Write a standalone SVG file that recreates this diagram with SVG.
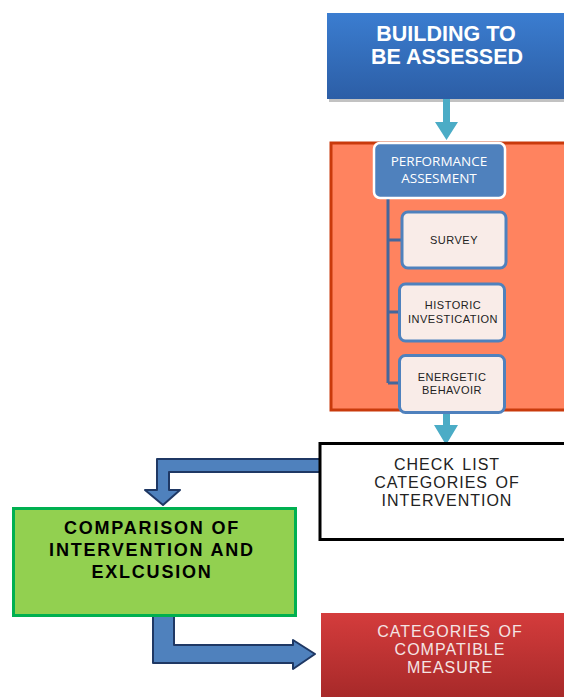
<svg xmlns="http://www.w3.org/2000/svg" width="564" height="697" viewBox="0 0 564 697">
<defs>
<linearGradient id="gBlue" x1="0" y1="0" x2="0" y2="1"><stop offset="0" stop-color="#3b7dd0"/><stop offset="1" stop-color="#2c5ea6"/></linearGradient>
<linearGradient id="gRed" x1="0" y1="0" x2="0" y2="1"><stop offset="0" stop-color="#d43c3c"/><stop offset="1" stop-color="#a42828"/></linearGradient>
<style>
.sub{fill:#f9ece8;stroke:#4f81bd;stroke-width:3}
.subt{font-family:"Liberation Sans",Arial,sans-serif;font-size:11px;letter-spacing:0.5px;fill:#222;text-anchor:middle}
.teal{fill:#4bacc6}
.barrow{fill:#4f81bd;stroke:#1f3864;stroke-width:2;stroke-linejoin:round}
.ck{font-family:"Liberation Sans",Arial,sans-serif;font-size:16px;letter-spacing:1px;word-spacing:2px;text-anchor:middle}
.bt{font-family:"Liberation Sans",Arial,sans-serif;font-weight:bold;font-size:21.5px;fill:#ffffff;text-anchor:middle}
</style>
</defs>
<rect width="564" height="697" fill="#ffffff"/>

<g id="building">
<rect x="329" y="16" width="240" height="86" fill="#9a9a9a" opacity="0.6"/>
<rect x="327" y="13" width="240" height="86" fill="url(#gBlue)"/>
<text class="bt" x="446" y="41">BUILDING TO</text>
<text class="bt" x="447" y="64">BE ASSESSED</text>
</g>

<g id="assessment-panel">
<rect x="331" y="143" width="240" height="267" fill="#ff835f" stroke="#c93a0c" stroke-width="3"/>
</g>

<g id="connectors">
<polygon class="teal" points="443,99 450,99 450,122 458,122 446.5,140 435,122 443,122"/>
<polygon class="teal" points="443,413 450,413 450,425 458,425 446,445 434,425 443,425"/>
<path d="M388,197 V383 M388,240 H402 M388,312 H399 M388,383 H399" stroke="#44679c" stroke-width="3" fill="none"/>
<polygon class="barrow" points="321,459 157,459 157,490 145,490 163,505 180,490 169,490 169,472 321,472"/>
<polygon class="barrow" points="153,615 174,615 174,645 293,645 293,640 315,654 293,669 293,663 153,663"/>
</g>

<g id="performance">
<rect x="374" y="143" width="131" height="55" rx="6" fill="#4f81bd" stroke="#ffffff" stroke-width="2.5"/>
<text x="439" y="166" font-family="Open Sans,Liberation Sans,sans-serif" font-size="13.5" fill="#ffffff" text-anchor="middle">PERFORMANCE</text>
<text x="439" y="183" font-family="Open Sans,Liberation Sans,sans-serif" font-size="13.5" fill="#ffffff" text-anchor="middle">ASSESMENT</text>
</g>

<g id="survey">
<rect class="sub" x="402" y="212" width="104" height="56" rx="6"/>
<text class="subt" x="454" y="244">SURVEY</text>
</g>

<g id="historic">
<rect class="sub" x="399.5" y="284" width="105" height="57" rx="6"/>
<text class="subt" x="453" y="309">HISTORIC</text>
<text class="subt" x="453" y="323">INVESTICATION</text>
</g>

<g id="energetic">
<rect class="sub" x="399.5" y="355.5" width="105" height="57" rx="6"/>
<text class="subt" x="452" y="381">ENERGETIC</text>
<text class="subt" x="452" y="394">BEHAVOIR</text>
</g>

<g id="checklist">
<rect x="320" y="443.5" width="250" height="96" fill="#ffffff" stroke="#000000" stroke-width="3"/>
<text class="ck" x="447" y="470" fill="#222">CHECK LIST</text>
<text class="ck" x="447" y="488" fill="#222">CATEGORIES OF</text>
<text class="ck" x="447" y="506" fill="#222">INTERVENTION</text>
</g>

<g id="comparison">
<rect x="13.5" y="508.5" width="282" height="107" fill="#92d050" stroke="#00b050" stroke-width="3"/>
<text x="152" y="534" font-family="Liberation Sans,Arial,sans-serif" font-weight="bold" font-size="18" letter-spacing="1.8" fill="#000" text-anchor="middle">COMPARISON OF</text>
<text x="152" y="556" font-family="Liberation Sans,Arial,sans-serif" font-weight="bold" font-size="18" letter-spacing="1.8" fill="#000" text-anchor="middle">INTERVENTION AND</text>
<text x="152" y="578" font-family="Liberation Sans,Arial,sans-serif" font-weight="bold" font-size="18" letter-spacing="1.8" fill="#000" text-anchor="middle">EXLCUSION</text>
</g>

<g id="compatible">
<rect x="321" y="613" width="250" height="90" fill="url(#gRed)"/>
<text class="ck" x="450" y="637" fill="#f4e4e4">CATEGORIES OF</text>
<text class="ck" x="450" y="655" fill="#f4e4e4">COMPATIBLE</text>
<text class="ck" x="450" y="673" fill="#f4e4e4">MEASURE</text>
</g>
</svg>
